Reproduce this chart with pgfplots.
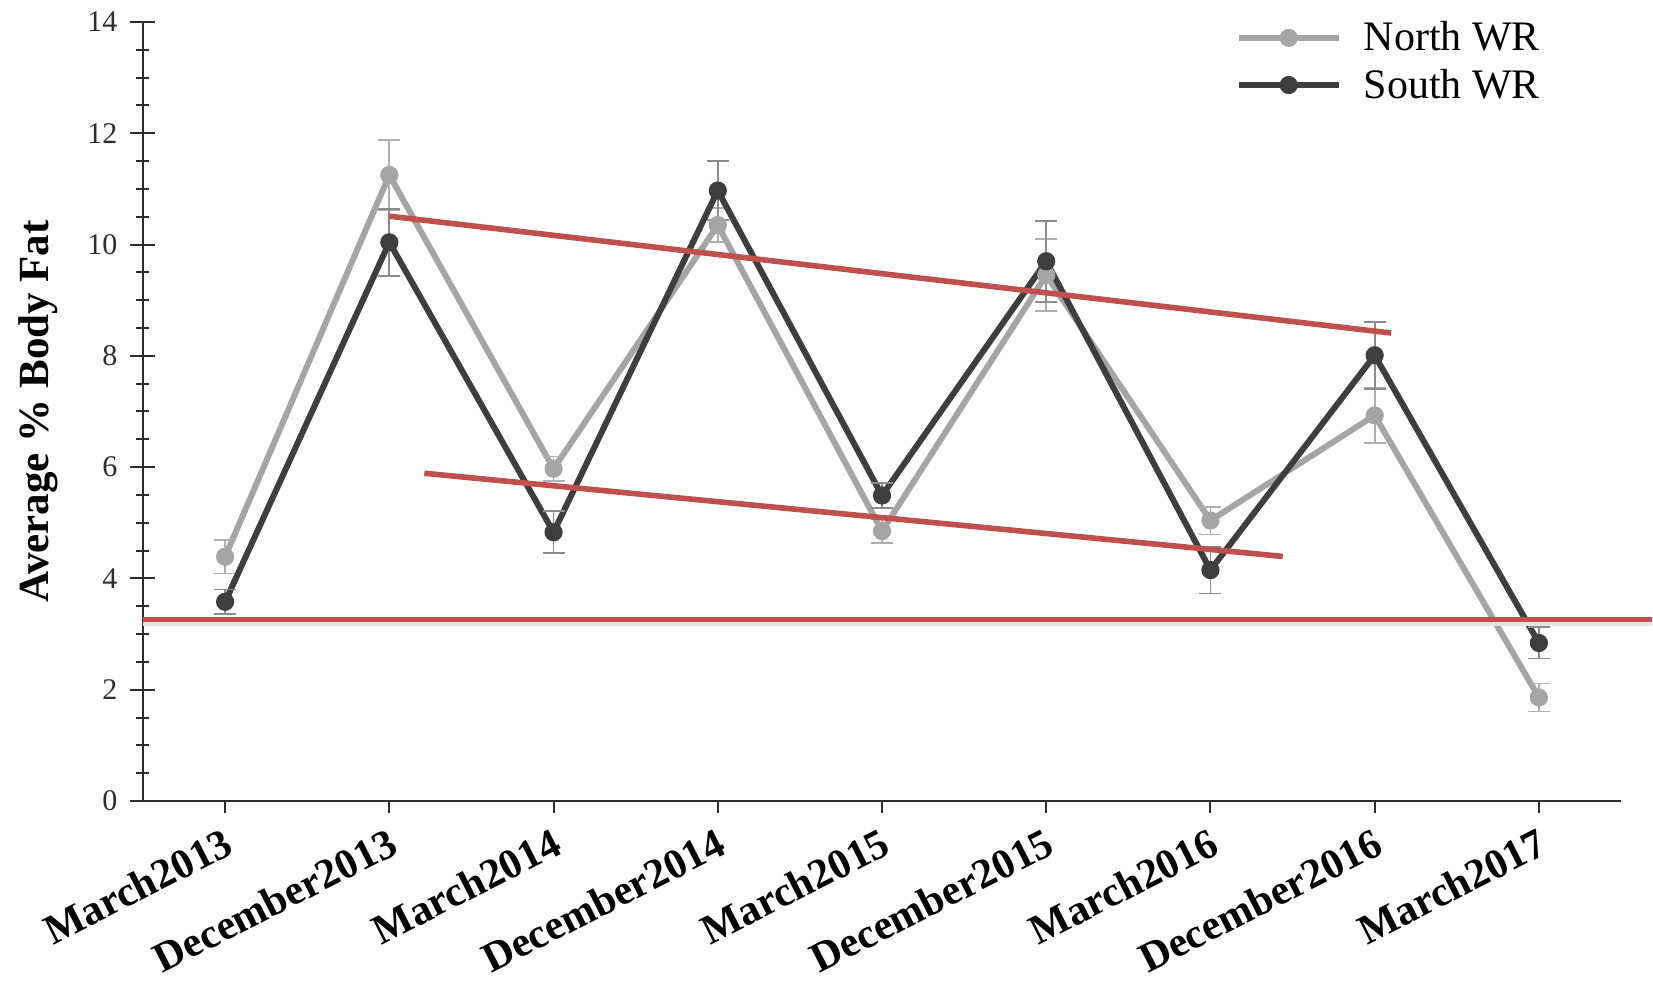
\documentclass[border=0pt]{standalone}
\usepackage{fontspec}
\setmainfont{Liberation Serif}
\usepackage{pgfplots}
\usepackage{pgfplotstable}
\pgfplotsset{compat=1.18}
\usetikzlibrary{calc}
\definecolor{lightser}{RGB}{165,165,165}
\definecolor{darkser}{RGB}{62,62,62}
\definecolor{redline}{RGB}{192,80,77}
\definecolor{axcol}{RGB}{45,45,45}
\definecolor{errlight}{RGB}{175,175,175}
\definecolor{errdark}{RGB}{140,140,140}

\pgfplotstableread{
x y e
0 4.39 0.30
1 11.25 0.63
2 5.97 0.22
3 10.35 0.30
4 4.85 0.22
5 9.45 0.65
6 5.04 0.25
7 6.93 0.50
8 1.86 0.25
}\north
\pgfplotstableread{
x y e
0 3.58 0.22
1 10.04 0.60
2 4.83 0.38
3 10.97 0.53
4 5.49 0.22
5 9.70 0.73
6 4.15 0.42
7 8.01 0.60
8 2.84 0.28
}\south

\begin{document}
\begin{tikzpicture}
\begin{axis}[
  scale only axis, width=739pt, height=389.5pt,
  xmin=-0.5, xmax=8.5, ymin=0, ymax=14,
  axis x line=bottom, axis y line=left,
  axis line style={-, axcol, line width=1pt},
  clip=false,
  xtick={0,...,8},
  xticklabels={March2013,December2013,March2014,December2014,March2015,December2015,March2016,December2016,March2017},
  ytick={0,2,...,14},
  minor y tick num=3,
  tick align=center,
  major tick length=12.5pt, minor tick length=6.5pt,
  tick style={axcol, line width=1pt},
  xtick style={/pgfplots/major tick length=6pt, /pgfplots/tick align=outside},
  /pgf/number format/assume math mode=true,
  yticklabel style={font=\fontsize{15}{17}\selectfont, text=axcol, xshift=-3pt},
  xticklabel style={font=\bfseries\fontsize{21}{24}\selectfont, rotate=27, anchor=north east, inner sep=2pt, yshift=-3pt, xshift=-2pt},
  ylabel={Average \% Body Fat},
  every axis y label/.style={at={(rel axis cs:0,0.5)}, xshift=-52.5pt, rotate=90, anchor=center,
    font=\bfseries\fontsize{21.5}{24}\selectfont},
  legend style={draw=none, fill=none, at={(rel axis cs:0.735,1.011)}, anchor=north west,
    font=\fontsize{21}{24}\selectfont, row sep=3.5pt,
    /tikz/every odd column/.append style={column sep=9pt}},
  legend cell align=left,
  legend image code/.code={\draw[mark repeat=2,mark phase=2,#1] plot coordinates {(0pt,0pt) (25pt,0pt) (50pt,0pt)};},
]
\coordinate (bl) at (rel axis cs:0,0);
\coordinate (tr) at (rel axis cs:1,1);
\addplot[lightser, line width=3pt, mark=*, mark size=4.3pt, mark options={solid, fill=lightser, draw=lightser, line width=0.5pt},
  error bars/.cd, y dir=both, y explicit,
  error bar style={line width=0.9pt, errlight},
  error mark options={rotate=90, mark size=5.5pt, line width=0.9pt, errlight}]
  table[x=x, y=y, y error=e] {\north};
\addlegendentry{North WR}
\addplot[darkser, line width=3pt, mark=*, mark size=4.3pt, mark options={solid, fill=darkser, draw=darkser, line width=0.5pt},
  error bars/.cd, y dir=both, y explicit,
  error bar style={line width=0.9pt, errdark},
  error mark options={rotate=90, mark size=5.5pt, line width=0.9pt, errdark}]
  table[x=x, y=y, y error=e] {\south};
\addlegendentry{South WR}
% red trend lines
\addplot[forget plot, gray!22, line width=2.4pt, yshift=-1.8pt] coordinates {(-0.5,3.26) (8.69,3.26)};
\addplot[forget plot, redline, line width=2.8pt] coordinates {(-0.5,3.26) (8.69,3.26)};
\addplot[forget plot, redline, line width=2.8pt] coordinates {(1.00,10.51) (7.10,8.41)};
\addplot[forget plot, redline, line width=2.8pt] coordinates {(1.213,5.89) (6.44,4.395)};
\end{axis}
\pgfresetboundingbox
\path ($(bl)+(-71.5pt,-96pt)$) rectangle ($(tr)+(16pt,11pt)$);
\end{tikzpicture}
\end{document}
